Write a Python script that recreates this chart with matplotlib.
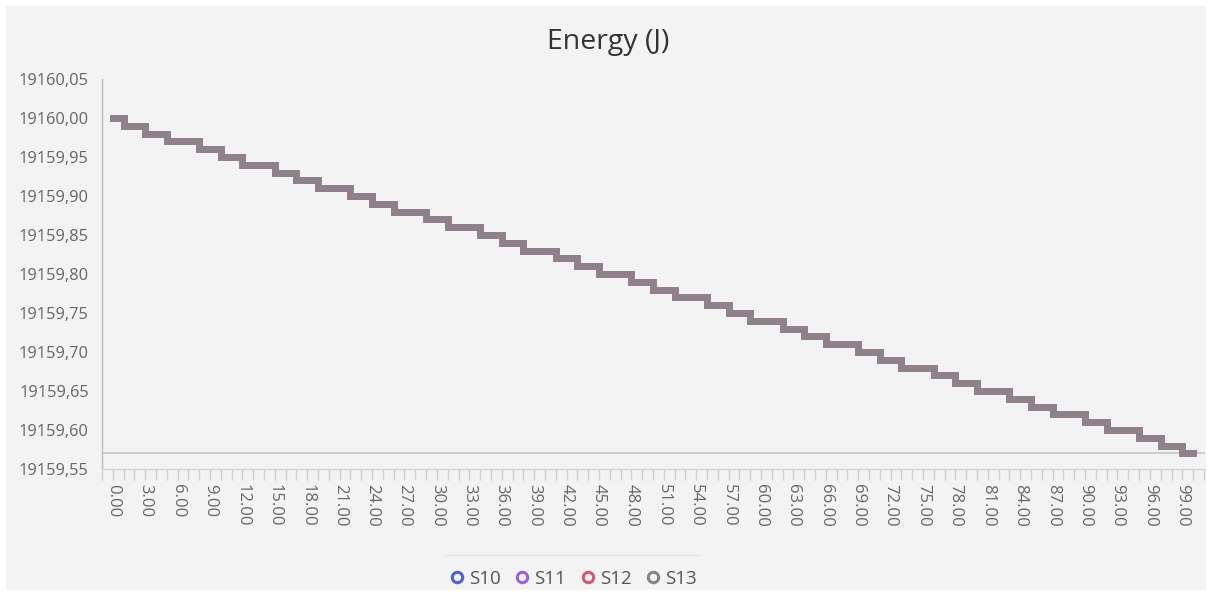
import matplotlib
matplotlib.use("Agg")
import matplotlib.pyplot as plt
import numpy as np
from matplotlib.ticker import FuncFormatter, MultipleLocator
from matplotlib.patches import Rectangle
from matplotlib.lines import Line2D

plt.rcParams['font.family'] = ['Open Sans', 'DejaVu Sans']

# ---- data ----
time = list(range(0, 101))
energy = [
    19160.00,
    19159.99, 19159.99,
    19159.98, 19159.98,
    19159.97, 19159.97, 19159.97,
    19159.96, 19159.96,
    19159.95, 19159.95,
    19159.94, 19159.94, 19159.94,
    19159.93, 19159.93,
    19159.92, 19159.92,
    19159.91, 19159.91, 19159.91,
    19159.90, 19159.90,
    19159.89, 19159.89,
    19159.88, 19159.88, 19159.88,
    19159.87, 19159.87,
    19159.86, 19159.86, 19159.86,
    19159.85, 19159.85,
    19159.84, 19159.84,
    19159.83, 19159.83, 19159.83,
    19159.82, 19159.82,
    19159.81, 19159.81,
    19159.80, 19159.80, 19159.80,
    19159.79, 19159.79,
    19159.78, 19159.78,
    19159.77, 19159.77, 19159.77,
    19159.76, 19159.76,
    19159.75, 19159.75,
    19159.74, 19159.74, 19159.74,
    19159.73, 19159.73,
    19159.72, 19159.72,
    19159.71, 19159.71, 19159.71,
    19159.70, 19159.70,
    19159.69, 19159.69,
    19159.68, 19159.68, 19159.68,
    19159.67, 19159.67,
    19159.66, 19159.66,
    19159.65, 19159.65, 19159.65,
    19159.64, 19159.64,
    19159.63, 19159.63,
    19159.62, 19159.62, 19159.62,
    19159.61, 19159.61,
    19159.60, 19159.60, 19159.60,
    19159.59, 19159.59,
    19159.58, 19159.58,
    19159.57, 19159.57,
]
series_names = ["S10", "S11", "S12", "S13"]
series_values = {name: energy for name in series_names}
series_colors = ["#5360d2", "#9e62d8", "#d25a76", "#868686"]
series_alpha = [0.6, 0.6, 0.6, 0.85]
y_ticks = [19159.55, 19159.60, 19159.65, 19159.70, 19159.75, 19159.80,
           19159.85, 19159.90, 19159.95, 19160.00, 19160.05]
x_label_ticks = list(range(0, 100, 3))
title = "Energy (J)"

# ---- figure ----
W, H = 1212, 596
fig = plt.figure(figsize=(W / 100, H / 100), dpi=100)
fig.patch.set_facecolor("white")
bg = "#f3f3f3"
fig.patches.append(Rectangle((6 / W, 6 / H), 1 - 12 / W, 1 - 12 / H,
                             transform=fig.transFigure, facecolor=bg,
                             edgecolor="none", zorder=-10))

ax = fig.add_axes([102 / W, 1 - 469 / H, (1205 - 102) / W, (469 - 79) / H])
ax.set_facecolor("none")

for name, col, a in zip(series_names, series_colors, series_alpha):
    ax.plot(time, series_values[name], drawstyle="steps-post", color=col,
            alpha=a, lw=4.8, solid_joinstyle="miter", solid_capstyle="projecting",
            zorder=3)

ax.axhline(min(energy), color="#c9c9c9", lw=1.3, zorder=2)

ax.set_xlim(-1, 101.1)
ax.set_ylim(19159.55, 19160.05)

ax.set_yticks(y_ticks)
ax.yaxis.set_major_formatter(FuncFormatter(lambda v, p: f"{v:.2f}".replace(".", ",")))
ax.set_xticks(x_label_ticks)
ax.set_xticklabels([f"{v:.2f}" for v in x_label_ticks], rotation=-90)
ax.xaxis.set_minor_locator(MultipleLocator(1))

for s in ["top", "right"]:
    ax.spines[s].set_visible(False)
ax.spines["left"].set_color("#bdbdbd")
ax.spines["left"].set_linewidth(1.0)
ax.spines["bottom"].set_color("#d2d2d2")
ax.spines["bottom"].set_linewidth(1.0)

ax.tick_params(axis="y", length=0, pad=9.5, labelsize=11.8, labelcolor="#666666")
ax.tick_params(axis="x", which="both", length=8, width=1, color="#cfcfcf",
               pad=2.5, labelsize=12, labelcolor="#666666", direction="out")

fig.text(608 / W, 1 - 42 / H, title, ha="center", va="center",
         fontsize=20.5, color="#333333")

# legend
handles = [Line2D([], [], ls="none", marker="o", markersize=7.5,
                  markerfacecolor="none", markeredgecolor=c, markeredgewidth=2.2)
           for c in series_colors]
leg = fig.legend(handles, series_names, loc="center",
                 bbox_to_anchor=(574 / W, 1 - 579 / H), ncol=4, frameon=False,
                 fontsize=13.5, handlelength=0.6, handletextpad=0.35,
                 columnspacing=0.85, borderpad=0)
for t in leg.get_texts():
    t.set_color("#555555")

fig.add_artist(Line2D([445 / W, 700 / W], [1 - 555 / H, 1 - 555 / H],
                      transform=fig.transFigure, color="#e6e6e6", lw=1))

fig.savefig("out.png", dpi=100, facecolor=fig.get_facecolor())
